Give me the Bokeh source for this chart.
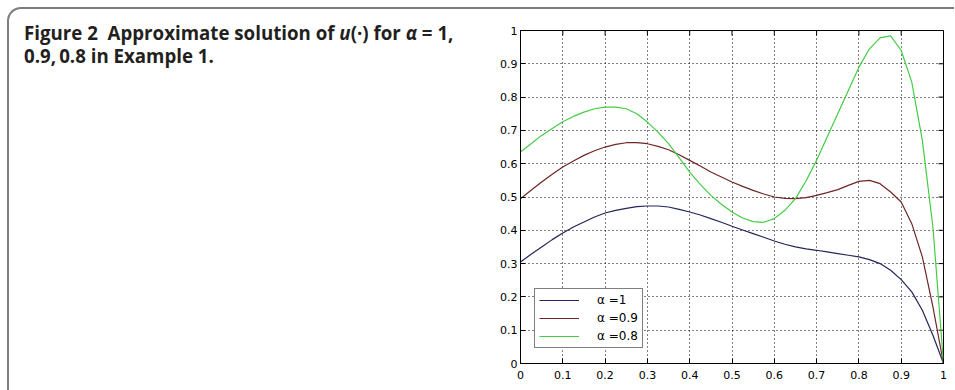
from bokeh.plotting import figure
from bokeh.models import Div, FixedTicker, Legend, LegendItem, Range1d
from bokeh.layouts import row
from bokeh.embed import file_html
from bokeh.resources import INLINE

x = [0.0, 0.025, 0.05, 0.075, 0.1, 0.125, 0.15, 0.175, 0.2, 0.225, 0.25, 0.275,
     0.3, 0.325, 0.35, 0.375, 0.4, 0.425, 0.45, 0.475, 0.5, 0.525, 0.55, 0.575,
     0.6, 0.625, 0.65, 0.675, 0.7, 0.725, 0.75, 0.775, 0.8, 0.825, 0.85, 0.875,
     0.9, 0.925, 0.95, 0.975, 1.0]

u_alpha_1 = [0.305, 0.328, 0.35, 0.372, 0.392, 0.41, 0.425, 0.44, 0.452, 0.46,
             0.466, 0.471, 0.473, 0.473, 0.47, 0.463, 0.455, 0.446, 0.435, 0.424,
             0.412, 0.401, 0.39, 0.379, 0.368, 0.358, 0.35, 0.344, 0.34, 0.335,
             0.33, 0.325, 0.32, 0.312, 0.30, 0.28, 0.252, 0.215, 0.16, 0.085, 0.0]
u_alpha_09 = [0.495, 0.52, 0.545, 0.568, 0.59, 0.608, 0.625, 0.639, 0.65, 0.658,
              0.663, 0.663, 0.66, 0.652, 0.642, 0.627, 0.61, 0.593, 0.575, 0.56,
              0.545, 0.532, 0.52, 0.509, 0.5, 0.496, 0.495, 0.498, 0.505, 0.513,
              0.522, 0.535, 0.547, 0.55, 0.54, 0.515, 0.485, 0.42, 0.32, 0.17, 0.0]
u_alpha_08 = [0.635, 0.66, 0.685, 0.706, 0.726, 0.742, 0.755, 0.765, 0.77, 0.77,
              0.765, 0.75, 0.725, 0.695, 0.66, 0.618, 0.575, 0.538, 0.505, 0.478,
              0.455, 0.437, 0.426, 0.424, 0.435, 0.46, 0.495, 0.548, 0.61, 0.68,
              0.75, 0.82, 0.89, 0.945, 0.978, 0.984, 0.94, 0.845, 0.67, 0.41, 0.0]

series_labels = ["\u03b1 =1", "\u03b1 =0.9", "\u03b1 =0.8"]
series_colors = ["#25255a", "#6e2626", "#44cc44"]

tick_values = [0.0, 0.1, 0.2, 0.3, 0.4, 0.5, 0.6, 0.7, 0.8, 0.9, 1.0]
tick_labels = ["0", "0.1", "0.2", "0.3", "0.4", "0.5", "0.6", "0.7", "0.8", "0.9", "1"]

overrides = {v: s for v, s in zip(tick_values, tick_labels)}

FW, FH = 423, 333
TICK_PX = 5

p = figure(frame_width=FW, frame_height=FH, output_backend="svg",
           toolbar_location=None, min_border_left=50, min_border_top=21,
           min_border_right=11, min_border_bottom=27,
           x_range=Range1d(0, 1), y_range=Range1d(0, 1))
p.background_fill_color = "white"
p.border_fill_color = "white"
p.outline_line_color = "black"
p.outline_line_width = 1

font = "DejaVu Sans"
for ax in [p.xaxis[0], p.yaxis[0]]:
    ax.ticker = FixedTicker(ticks=tick_values)
    ax.major_label_overrides = overrides
    ax.major_tick_in = TICK_PX
    ax.major_tick_out = 0
    ax.minor_tick_line_color = None
    ax.axis_line_color = "black"
    ax.major_tick_line_color = "black"
    ax.major_label_text_font = font
    ax.major_label_text_font_size = "11px"
    ax.major_label_text_color = "black"
p.xaxis[0].major_label_standoff = 7
p.yaxis[0].major_label_standoff = 3

for g in [p.xgrid[0], p.ygrid[0]]:
    g.ticker = FixedTicker(ticks=tick_values)
    g.grid_line_color = "black"
    g.grid_line_dash = "1 3"
    g.grid_line_width = 1
    g.grid_line_alpha = 1.0

# inward ticks on the top and right edges of the box (MATLAB style)
ty = TICK_PX / FH
tx = TICK_PX / FW
p.segment(x0=tick_values, y0=[1.0] * len(tick_values), x1=tick_values,
          y1=[1.0 - ty] * len(tick_values), line_color="black", line_width=1)
p.segment(x0=[1.0] * len(tick_values), y0=tick_values, x1=[1.0 - tx] * len(tick_values),
          y1=tick_values, line_color="black", line_width=1)

renderers = []
for ys, c in zip([u_alpha_1, u_alpha_09, u_alpha_08], series_colors):
    r = p.line(x, ys, line_color=c, line_width=1.2)
    renderers.append(r)

legend = Legend(items=[LegendItem(label=l, renderers=[r]) for l, r in zip(series_labels, renderers)],
                location=(14, 15), orientation="vertical")
legend.border_line_color = "black"
legend.border_line_width = 1
legend.background_fill_color = "white"
legend.background_fill_alpha = 1
legend.padding = 4
legend.spacing = 4
legend.margin = 0
legend.glyph_width = 40
legend.glyph_height = 14
legend.label_height = 14
legend.label_standoff = 18
legend.label_text_font = font
legend.label_text_font_size = "12px"
legend.label_text_color = "black"
p.add_layout(legend, "center")

caption = Div(
    text=('<div style="font-family:\'Open Sans\',sans-serif;font-weight:700;font-size:18.7px;'
          'line-height:23px;color:#231f20;padding:12px 0 0 15px;white-space:nowrap;">'
          'Figure 2&nbsp;&nbsp;Approximate solution of <i>u</i>(&middot;) for <i>&alpha;</i> = 1,<br>'
          '0.9,&thinsp;0.8 in Example 1.</div>'),
    width=461, height=380, margin=0)

layout = row(caption, p, margin=(7, 0, 0, 7), spacing=0,
             styles={"border-top": "2px solid #7d7d7d", "border-left": "2px solid #7d7d7d",
                     "border-top-left-radius": "14px"})

open("out.html", "w").write(file_html(layout, INLINE))
